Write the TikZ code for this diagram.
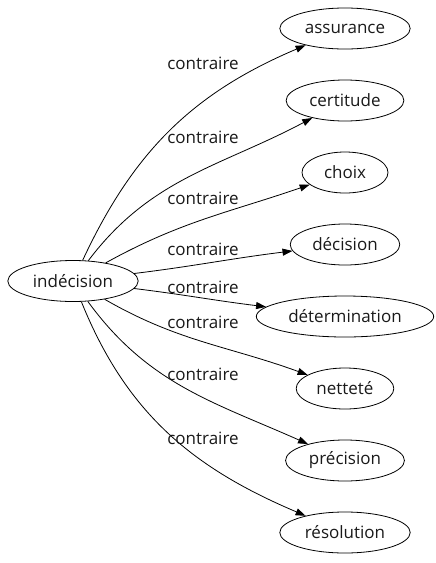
\documentclass[tikz,border=0pt]{standalone}
\usepackage{fontspec}
\setmainfont{Open Sans}
\usetikzlibrary{positioning}
\usetikzlibrary{arrows.meta}
\usetikzlibrary{shapes.geometric}

\begin{document}
\begin{tikzpicture}[x=1pt, y=1pt, line width=0.8pt,
    >={Triangle[length=10pt,width=7pt]},
    word/.style={draw, ellipse, inner xsep=6pt, minimum width=86pt, minimum height=41pt,
      text=black!90, font=\fontsize{17}{20}\selectfont},
    rel/.style={text=black!90, font=\fontsize{17}{20}\selectfont}]
    \useasboundingbox (0,0) rectangle (436,-563);

    \node[word] (indecision) at (73,-281) {indécision};
    \node[word] (assurance) at (345,-28.5) {assurance};
    \node[word, below=30.2pt of assurance] (certitude) {certitude};
    \node[word, below=30.2pt of certitude] (choix) {choix};
    \node[word, below=30.2pt of choix] (decision) {décision};
    \node[word, below=30.2pt of decision] (determination) {détermination};
    \node[word, below=30.2pt of determination] (nettete) {netteté};
    \node[word, below=30.2pt of nettete] (precision) {précision};
    \node[word, below=30.2pt of precision] (resolution) {résolution};

    \draw[->] (indecision) to[out=65,in=203] (assurance);
    \draw[->] (indecision) to[out=53,in=208] (certitude);
    \draw[->] (indecision) to[out=29,in=199] (choix);
    \draw[->] (indecision) to[out=7,in=187] (decision);
    \draw[->] (indecision) to[out=-7,in=173] (determination);
    \draw[->] (indecision) to[out=-30,in=160] (nettete);
    \draw[->] (indecision) to[out=-54,in=156] (precision);
    \draw[->] (indecision) to[out=-68,in=157] (resolution);

    \node[rel] (lab1) at (203,-63) {contraire};
    \node[rel] (lab2) at (203,-137) {contraire};
    \node[rel] (lab3) at (203,-198) {contraire};
    \node[rel] (lab4) at (203,-249) {contraire};
    \node[rel] (lab5) at (203,-287) {contraire};
    \node[rel] (lab6) at (203,-322) {contraire};
    \node[rel] (lab7) at (203,-374) {contraire};
    \node[rel] (lab8) at (203,-438) {contraire};
\end{tikzpicture}
\end{document}
